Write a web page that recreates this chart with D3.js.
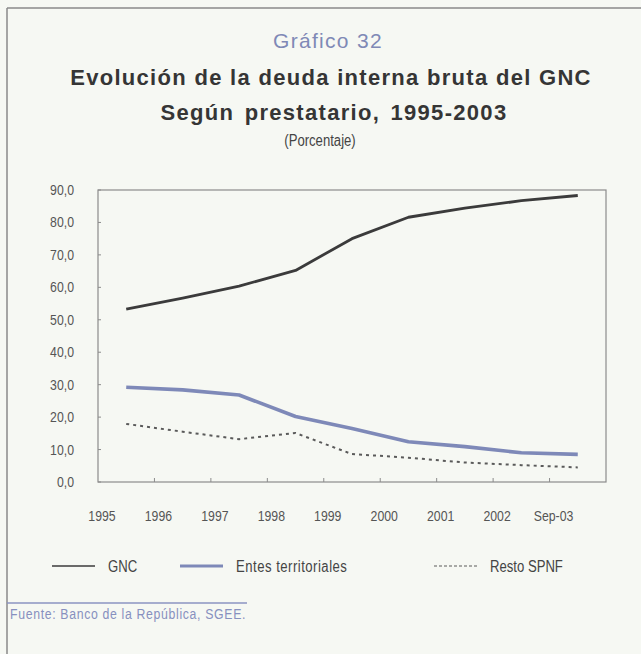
<!DOCTYPE html>
<html>
<head>
<meta charset="utf-8">
<script src="https://cdn.jsdelivr.net/npm/d3@7"></script>
<style>
  html, body { margin: 0; padding: 0; background: #f6f8f3; }
  svg { display: block; }
</style>
</head>
<body>
<svg id="chart" width="641" height="654"></svg>
<script>
// Categories (years) and series values, in percent
const categories = ["1995", "1996", "1997", "1998", "1999", "2000", "2001", "2002", "Sep-03"];
const gnc   = [53.3, 56.7, 60.4, 65.2, 75.0, 81.6, 84.4, 86.7, 88.3];
const entes = [29.2, 28.4, 26.8, 20.2, 16.5, 12.4, 10.9, 9.0, 8.5];
const resto = [17.9, 15.5, 13.2, 15.1, 8.6, 7.5, 6.0, 5.2, 4.5];
const yTicks = [0, 10, 20, 30, 40, 50, 60, 70, 80, 90];
const legendLabels = ["GNC", "Entes territoriales", "Resto SPNF"];

const sans = "'Liberation Sans', Arial, Helvetica, sans-serif";
const NARROW = 0.82; // horizontal squeeze giving a narrow face

const svg = d3.select("#chart");

// Narrow text: Liberation Sans compressed horizontally around its anchor point
function narrowText(parent, px, py, str, size, fill, anchor, spacing) {
  return parent.append("text")
    .attr("transform", `translate(${px},${py}) scale(${NARROW},1)`)
    .attr("text-anchor", anchor || "start")
    .attr("font-family", sans).attr("font-size", size).attr("fill", fill)
    .attr("letter-spacing", spacing || 0)
    .text(str);
}

// Outer frame: top and left rules
svg.append("line").attr("x1", 7).attr("x2", 641).attr("y1", 8).attr("y2", 8)
  .attr("stroke", "#8a8a8a").attr("stroke-width", 1.5);
svg.append("line").attr("x1", 7).attr("x2", 7).attr("y1", 8).attr("y2", 654)
  .attr("stroke", "#8a8a8a").attr("stroke-width", 1.5);

// Titles
svg.append("text").attr("x", 328).attr("y", 48).attr("text-anchor", "middle")
  .attr("font-family", sans).attr("font-size", 21).attr("letter-spacing", 1.3)
  .attr("fill", "#7f89b6").text("Gráfico 32");
svg.append("text").attr("x", 331).attr("y", 85).attr("text-anchor", "middle")
  .attr("font-family", sans).attr("font-weight", "bold").attr("font-size", 22)
  .attr("letter-spacing", 1.3).attr("fill", "#353535")
  .text("Evolución de la deuda interna bruta del GNC");
svg.append("text").attr("x", 334).attr("y", 120).attr("text-anchor", "middle")
  .attr("font-family", sans).attr("font-weight", "bold").attr("font-size", 22)
  .attr("letter-spacing", 1.3).attr("word-spacing", 3).attr("fill", "#353535")
  .text("Según prestatario, 1995-2003");
narrowText(svg, 320, 146, "(Porcentaje)", 16, "#444", "middle");

// Plot area
const x0 = 98, x1 = 606, yTop = 190, yBot = 482;
const x = d3.scaleBand().domain(categories).range([x0, x1]);
const y = d3.scaleLinear().domain([0, 90]).range([yBot, yTop]);

svg.append("rect").attr("x", x0).attr("y", yTop).attr("width", x1 - x0).attr("height", yBot - yTop)
  .attr("fill", "none").attr("stroke", "#8c8c8c").attr("stroke-width", 1.2);

// Y axis: inward ticks, labels with comma decimals
const fmt = v => d3.format(".1f")(v).replace(".", ",");
const gy = svg.append("g");
gy.selectAll("line").data(yTicks).join("line")
  .attr("x1", x0).attr("x2", x0 + 3)
  .attr("y1", d => y(d)).attr("y2", d => y(d))
  .attr("stroke", "#8c8c8c");
yTicks.forEach(v => narrowText(gy, 74, y(v) + 5, fmt(v), 15, "#555", "end"));

// X axis: ticks at category boundaries, labels at band start
const gx = svg.append("g");
gx.selectAll("line").data(categories.slice(1)).join("line")
  .attr("x1", d => x(d)).attr("x2", d => x(d))
  .attr("y1", yBot).attr("y2", yBot - 4)
  .attr("stroke", "#8c8c8c");
categories.forEach(c => narrowText(gx, x(c) + 4, 521, c, 15, "#555", "middle"));

// Series lines
const line = d3.line().x((d, i) => x(categories[i]) + x.bandwidth() / 2).y(d => y(d));
const series = [
  { values: gnc,   color: "#3b3b3b", width: 2.8, dash: null },
  { values: entes, color: "#7e89b8", width: 3.6, dash: null },
  { values: resto, color: "#5a5a5a", width: 2,   dash: "3,4" }
];
series.forEach(s => {
  svg.append("path").datum(s.values).attr("d", line)
    .attr("fill", "none").attr("stroke", s.color).attr("stroke-width", s.width)
    .attr("stroke-dasharray", s.dash).attr("stroke-linejoin", "round");
});

// Legend
const legendX = [52, 180, 434];
const lg = svg.append("g");
series.forEach((s, i) => {
  lg.append("line").attr("x1", legendX[i]).attr("x2", legendX[i] + 43)
    .attr("y1", 566).attr("y2", 566)
    .attr("stroke", s.color).attr("stroke-width", i === 1 ? 3 : (i === 0 ? 1.5 : 1.2))
    .attr("stroke-dasharray", i === 2 ? "3,2" : null);
  narrowText(lg, legendX[i] + 56, 572, legendLabels[i], 16, "#444", "start", i === 1 ? 0.6 : 0);
});

// Source note
svg.append("line").attr("x1", 7).attr("x2", 247).attr("y1", 603).attr("y2", 603)
  .attr("stroke", "#8b94c2").attr("stroke-width", 1.5);
narrowText(svg, 10, 619, "Fuente: Banco de la República, SGEE.", 15, "#8790bf", "start", 0.8);
</script>
</body>
</html>
